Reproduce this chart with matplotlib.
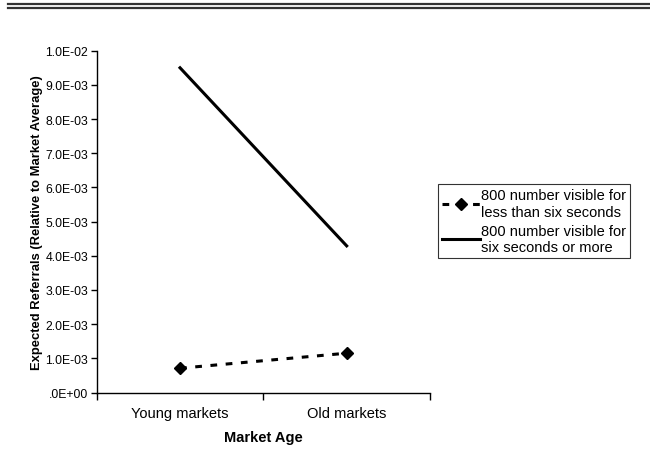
import matplotlib
matplotlib.use("Agg")
import matplotlib.pyplot as plt
from matplotlib.lines import Line2D
from matplotlib.ticker import FixedLocator

plt.rcParams['font.family'] = ['Liberation Sans', 'DejaVu Sans']

categories = ["Young markets", "Old markets"]
short_visible = [0.71e-3, 1.15e-3]
long_visible = [9.5e-3, 4.29e-3]
series_labels = ["800 number visible for\nless than six seconds",
                 "800 number visible for\nsix seconds or more"]
y_ticks = [0.0, 1e-3, 2e-3, 3e-3, 4e-3, 5e-3, 6e-3, 7e-3, 8e-3, 9e-3, 1e-2]
y_tick_labels = [".0E+00", "1.0E-03", "2.0E-03", "3.0E-03", "4.0E-03", "5.0E-03",
                 "6.0E-03", "7.0E-03", "8.0E-03", "9.0E-03", "1.0E-02"]

W, H = 650, 477
fig = plt.figure(figsize=(W / 100, H / 100), dpi=100)

# double rule across the top
for yy, lw in [(5.2, 1.6), (9.2, 1.6)]:
    fig.add_artist(Line2D([8 / W, 1.0], [1 - yy / H, 1 - yy / H],
                          color="#333333", lw=lw, transform=fig.transFigure))

ax = fig.add_axes([96.7 / W, 1 - 393.5 / H, (430 - 96.7) / W, (393.5 - 51.7) / H])

x = [0.5, 1.5]
ax.plot(x, short_visible, color="black", lw=2.2, ls=(0, (2.2, 2.8)),
        marker="D", markersize=6, label=series_labels[0])
ax.plot(x, long_visible, color="black", lw=2.2, label=series_labels[1])

ax.set_xlim(0, 2)
ax.set_ylim(0, 0.01)
ax.set_yticks(y_ticks)
ax.set_yticklabels(y_tick_labels, fontsize=8.8)
ax.set_xticks(x)
ax.set_xticklabels(categories, fontsize=10.5)
ax.xaxis.set_minor_locator(FixedLocator([0, 1, 2]))
ax.tick_params(axis="x", which="major", length=0, pad=10)
ax.tick_params(axis="x", which="minor", length=5, width=1, direction="out")
ax.tick_params(axis="y", length=4, width=1, direction="out", pad=2)

for s in ["top", "right"]:
    ax.spines[s].set_visible(False)
for s in ["left", "bottom"]:
    ax.spines[s].set_linewidth(1.0)

ax.set_xlabel("Market Age", fontsize=10.5, fontweight="bold", labelpad=7)
ax.set_ylabel("Expected Referrals (Relative to Market Average)", fontsize=9.4,
              fontweight="bold", labelpad=2)

leg = fig.legend(loc="upper left", bbox_to_anchor=(437.5 / W, 1 - 185 / H),
                 fontsize=10.5, frameon=True, fancybox=False, edgecolor="black",
                 handlelength=2.6, handletextpad=0.05, borderpad=0.3,
                 labelspacing=0.35, borderaxespad=0)
leg.get_frame().set_linewidth(0.8)

fig.savefig("out.png", dpi=100, facecolor="white")
